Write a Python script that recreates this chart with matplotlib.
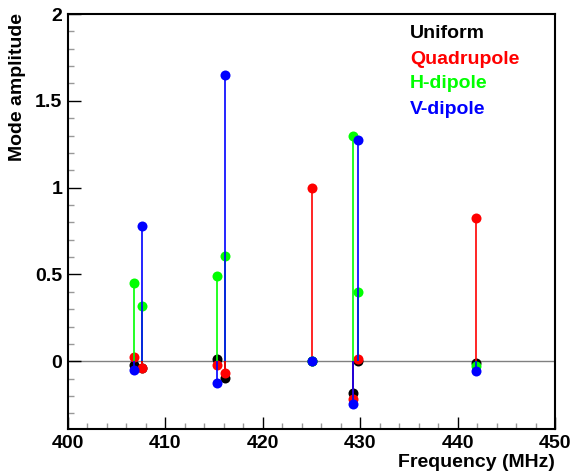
import matplotlib
matplotlib.use("Agg")
import matplotlib.pyplot as plt
from matplotlib.ticker import MultipleLocator

# resonance frequencies (MHz) and mode amplitudes
freqs = [406.74, 407.63, 415.33, 416.08, 425.05, 429.22, 429.8, 441.86]
uniform = [-0.02, -0.04, 0.015, -0.095, 0.0, -0.185, 0.0, -0.008]
quadrupole = [0.025, -0.04, -0.02, -0.07, 1.0, -0.22, 0.015, 0.825]
h_dipole = [0.45, 0.32, 0.49, 0.605, 0.0, 1.295, 0.40, -0.03]
v_dipole = [-0.052, 0.78, -0.125, 1.65, 0.0, -0.245, 1.275, -0.058]

names = ["Uniform", "Quadrupole", "H-dipole", "V-dipole"]
colors = ["#000000", "#ff0000", "#00ff00", "#0000ff"]
series = [uniform, quadrupole, h_dipole, v_dipole]

plt.rcParams["font.family"] = ["Liberation Sans", "DejaVu Sans"]
plt.rcParams["font.weight"] = "bold"
FS = 14

fig = plt.figure(figsize=(5.75, 4.74), dpi=100)
ax = fig.add_axes([68 / 575, 45 / 474, 487 / 575, 415 / 474])

ax.axhline(0, color="#808080", lw=1.0, zorder=1)

for i, (vals, c) in enumerate(zip(series, colors)):
    ax.vlines(freqs, 0, vals, color=c, lw=1.2, zorder=2 + 2 * i)
    ax.plot(freqs, vals, "o", color=c, ms=7.2, mec="none", zorder=3 + 2 * i)

ax.set_xlim(400, 450)
ax.set_ylim(-0.39, 2)
ax.xaxis.set_major_locator(MultipleLocator(10))
ax.xaxis.set_minor_locator(MultipleLocator(2))
ax.yaxis.set_major_locator(MultipleLocator(0.5))
ax.yaxis.set_minor_locator(MultipleLocator(0.1))
ax.set_yticks([0, 0.5, 1, 1.5, 2])
ax.set_yticklabels(["0", "0.5", "1", "1.5", "2"])

ax.tick_params(which="both", direction="in", top=False, right=False,
               labelsize=FS)
ax.tick_params(which="major", length=9, width=1.0, color="black")
ax.tick_params(which="minor", length=4.5, width=1.0, color="#999999")
ax.tick_params(axis="x", pad=4)
ax.tick_params(axis="y", pad=4)
for sp in ax.spines.values():
    sp.set_linewidth(1.5)

ax.set_xlabel("Frequency (MHz)", fontsize=FS, fontweight="bold",
              loc="right", labelpad=2)
fig.text(18 / 575, 1 - 13 / 474, "Mode amplitude", rotation=90,
         fontsize=FS, fontweight="bold", ha="center", va="top")

for i, (n, c) in enumerate(zip(names, colors)):
    fig.text(410 / 575, 1 - (34 + 25 * i) / 474, n, color=c, fontsize=FS,
             fontweight="bold", va="center", ha="left")

fig.savefig("out.png", dpi=100)
